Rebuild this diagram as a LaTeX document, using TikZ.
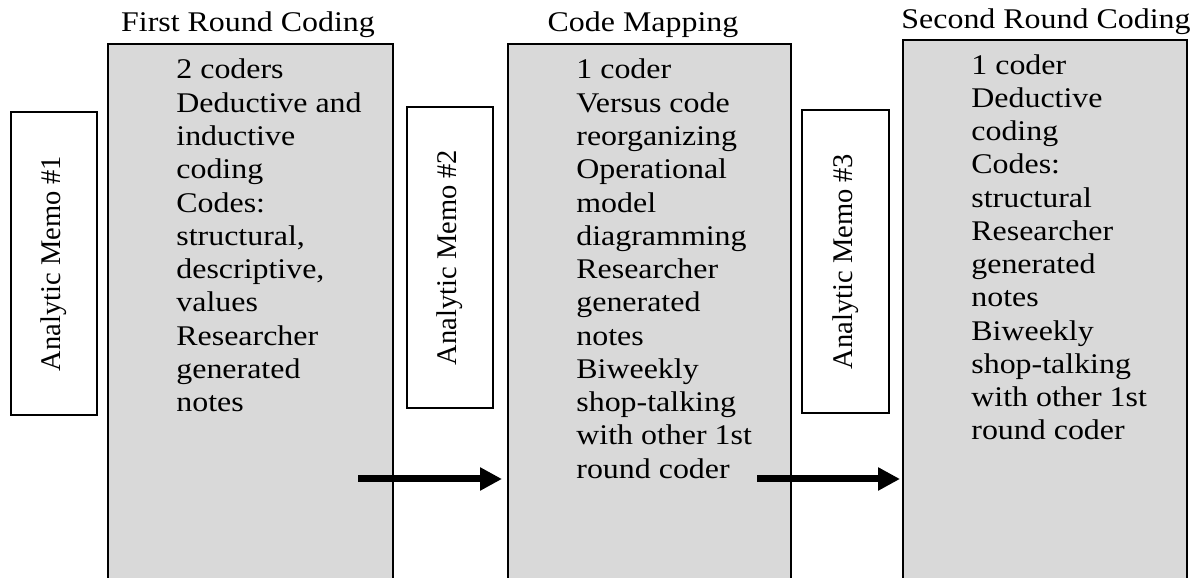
\documentclass[tikz,border=0pt]{standalone}
\usepackage{fontspec}
\setmainfont{Liberation Serif}[FakeStretch=1.12]
\newfontfamily\memofont{Liberation Serif}
\usetikzlibrary{arrows.meta}
\definecolor{stagegray}{HTML}{D9D9D9}
\tikzset{
  stage/.style={draw=black, line width=0.8pt, fill=stagegray, anchor=north west, inner sep=0pt},
  heading/.style={anchor=base, inner sep=0pt, font=\fontsize{14.25pt}{16.63pt}\selectfont},
  notes/.style={anchor=base west, align=left, inner sep=0pt, font=\fontsize{14.25pt}{16.63pt}\selectfont},
  memo/.style={draw=black, line width=0.8pt, fill=white, rotate=90, inner sep=0pt,
    minimum height=43pt, font=\memofont\fontsize{14.25pt}{16.63pt}\selectfont},
  flow/.style={-{Triangle[length=11pt,width=11pt]}, line width=3.5pt}
}

\begin{document}
\begin{tikzpicture}[x=0.5pt,y=0.5pt]
    \useasboundingbox (0,0) rectangle (1201,578);
    % the three stages
    \node[stage, minimum width=142.5pt, minimum height=278.5pt] (first) at (107,535) {};
    \node[stage, minimum width=141.5pt, minimum height=278.5pt] (mapping) at (507,535) {};
    \node[stage, minimum width=142pt, minimum height=280.5pt] (second) at (902,539) {};
    \node[heading] (firstT) at (248,546.3) {First Round Coding};
    \node[heading] (mappingT) at (643,546.3) {Code Mapping};
    \node[heading] (secondT) at (1046,549.7) {Second Round Coding};
    % notes: placed by the baseline of their last line
    \node[notes] (firstN) at (176,166.4) {2 coders\\Deductive and\\inductive\\coding\\Codes:\\structural,\\descriptive,\\values\\Researcher\\generated\\notes};
    \node[notes] (mappingN) at (576,99.9) {1 coder\\Versus code\\reorganizing\\Operational\\model\\diagramming\\Researcher\\generated\\notes\\Biweekly\\shop-talking\\with other 1st\\round coder};
    \node[notes] (secondN) at (971,138.1) {1 coder\\Deductive\\coding\\Codes:\\structural\\Researcher\\generated\\notes\\Biweekly\\shop-talking\\with other 1st\\round coder};
    % memos
    \node[memo, minimum width=151.5pt] (memoA) at (54,314.5) {Analytic Memo \#1};
    \node[memo, minimum width=150.5pt] (memoB) at (450,320.5) {Analytic Memo \#2};
    \node[memo, minimum width=151.5pt, minimum height=43.5pt] (memoC) at (845.5,316.5) {Analytic Memo \#3};
    % arrows
    \coordinate (startA) at (358,99);
    \coordinate (startB) at (757,99);
    \draw[flow, shorten >=2.5pt] (startA) -- (startA -| mapping.west);
    \draw[flow, shorten >=1pt] (startB) -- (startB -| second.west);
\end{tikzpicture}
\end{document}
